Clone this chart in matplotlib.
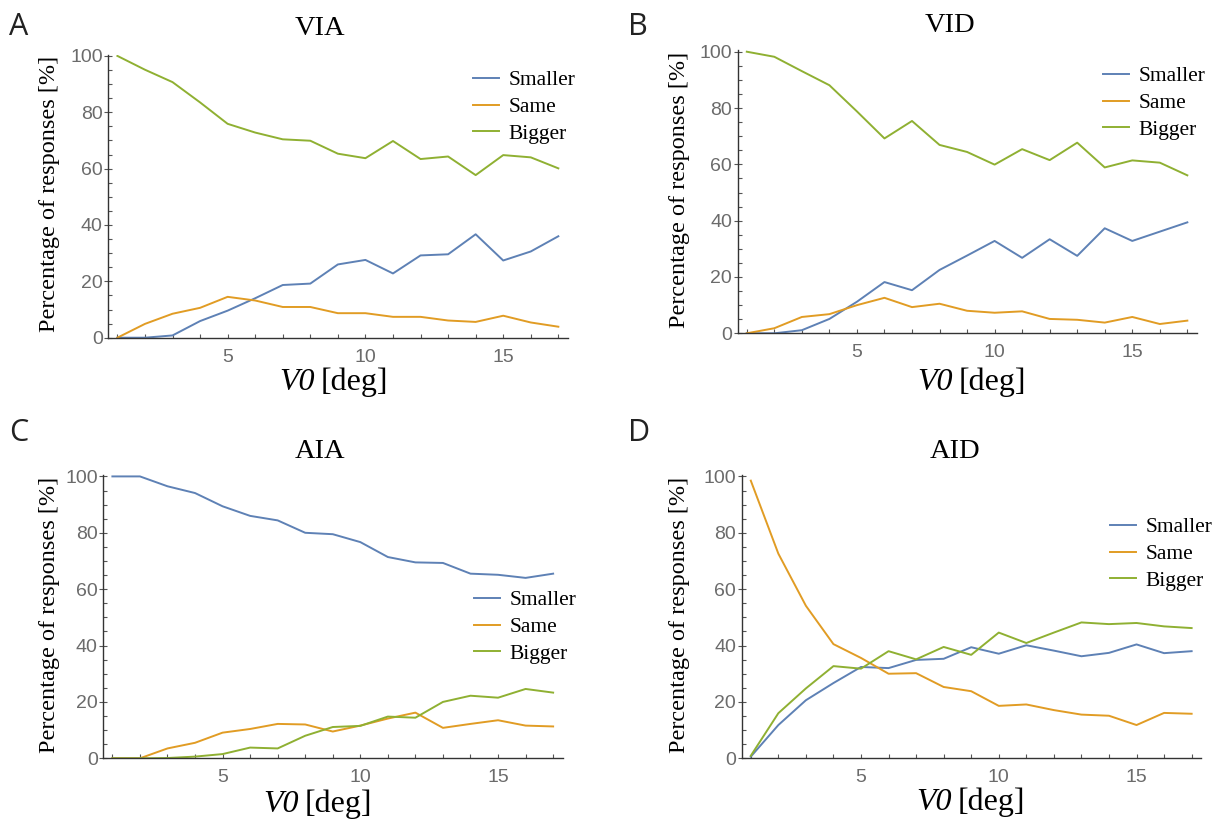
import matplotlib
matplotlib.use("Agg")
from matplotlib import pyplot as plt
from matplotlib.ticker import MultipleLocator

v0 = list(range(1, 18))

via_smaller = [0, 0, 0.8, 5.9, 9.6, 14, 18.7, 19.2, 26, 27.6, 22.8, 29.2, 29.6, 36.7, 27.4, 30.6, 36]
via_same = [0, 4.9, 8.5, 10.6, 14.5, 13.2, 10.9, 10.9, 8.7, 8.7, 7.4, 7.4, 6.1, 5.6, 7.8, 5.4, 3.9]
via_bigger = [100, 95.1, 90.7, 83.5, 75.9, 72.8, 70.4, 69.9, 65.3, 63.7, 69.8, 63.4, 64.3, 57.7, 64.8, 64, 60.1]

vid_smaller = [0, 0, 1.1, 5.1, 11.2, 18.2, 15.3, 22.5, 27.6, 32.8, 26.8, 33.4, 27.5, 37.3, 32.8, 36.1, 39.4]
vid_same = [0, 1.8, 5.8, 6.8, 10, 12.6, 9.3, 10.5, 8, 7.3, 7.8, 5.1, 4.8, 3.8, 5.8, 3.3, 4.5]
vid_bigger = [100, 98.2, 93.1, 88.1, 78.8, 69.2, 75.4, 66.9, 64.4, 59.9, 65.4, 61.5, 67.7, 58.9, 61.4, 60.6, 56.1]

aia_smaller = [100, 100, 96.5, 94.1, 89.4, 86, 84.4, 80, 79.5, 76.7, 71.4, 69.5, 69.3, 65.5, 65.1, 64, 65.5]
aia_same = [0, 0, 3.5, 5.5, 9.1, 10.4, 12.2, 12, 9.5, 11.6, 14.1, 16.2, 10.8, 12.2, 13.5, 11.6, 11.3]
aia_bigger = [0, 0, 0.1, 0.6, 1.5, 3.8, 3.5, 8, 11.1, 11.5, 14.8, 14.4, 20, 22.2, 21.5, 24.6, 23.3]

aid_smaller = [0.6, 11.8, 20.6, 26.7, 32.4, 32, 34.9, 35.3, 39.4, 37.1, 40.1, 38.2, 36.2, 37.4, 40.4, 37.3, 38]
aid_same = [98.5, 72.6, 54.1, 40.5, 35.6, 30, 30.2, 25.3, 23.8, 18.6, 19.1, 17.1, 15.5, 15.1, 11.8, 16.1, 15.8]
aid_bigger = [0.9, 16, 24.8, 32.7, 31.8, 38, 35.1, 39.5, 36.7, 44.6, 40.9, 44.6, 48.2, 47.6, 48, 46.8, 46.2]

labels = ["Smaller", "Same", "Bigger"]
colors = ["#5E81B5", "#E19C24", "#8FB032"]

SERIF = "Liberation Serif"
SANS = "Liberation Sans"

W, H = 1222, 824
fig = plt.figure(figsize=(W / 100, H / 100), dpi=100)
renderer = fig.canvas.get_renderer()


def fx(x):
    return x / W


def fy(y):
    return 1 - y / H


def v0_label(xc, yb):
    # italic "V0" followed by upright "[deg]", centred on xc
    a = fig.text(0, fy(yb), "V0", fontsize=23, family=SERIF, style="italic",
                 va="baseline")
    b = fig.text(0, fy(yb), "[deg]", fontsize=23, family=SERIF, va="baseline")
    wa = a.get_window_extent(renderer).width
    wb = b.get_window_extent(renderer).width
    gap = 6
    left = xc - (wa + gap + wb) / 2
    a.set_x(fx(left))
    b.set_x(fx(left + wa + gap))


# box (px), letter, title, ylabel x, xlabel centre, legend anchor
panels = [
    dict(box=(108.3, 54.5, 567.7, 337.7), series=(via_smaller, via_same, via_bigger),
         letter="A", letter_xy=(9, 35), title="VIA", title_xy=(320, 35),
         ylab_x=50, xlab_xy=(334, 390), leg_xy=(473, 107)),
    dict(box=(737.7, 50.3, 1196.7, 333.3), series=(vid_smaller, vid_same, vid_bigger),
         letter="B", letter_xy=(628, 35), title="VID", title_xy=(950, 32),
         ylab_x=680, xlab_xy=(972, 390), leg_xy=(1103, 103)),
    dict(box=(103.3, 475, 562.5, 758.3), series=(aia_smaller, aia_same, aia_bigger),
         letter="C", letter_xy=(9, 441), title="AIA", title_xy=(320, 458),
         ylab_x=50, xlab_xy=(318, 812), leg_xy=(474, 627)),
    dict(box=(741.7, 475, 1201, 758.3), series=(aid_smaller, aid_same, aid_bigger),
         letter="D", letter_xy=(628, 441), title="AID", title_xy=(955, 458),
         ylab_x=680, xlab_xy=(971, 810), leg_xy=(1110, 554)),
]

for p in panels:
    x0, y0, x1, y1 = p["box"]
    ax = fig.add_axes([fx(x0), fy(y1), fx(x1 - x0), (y1 - y0) / H])

    handles = []
    for vals, lab, col in zip(p["series"], labels, colors):
        (ln,) = ax.plot(v0, vals, color=col, lw=1.4, label=lab)
        handles.append(ln)

    ax.set_xlim(0.67, 17.34)
    ax.set_ylim(0, 100.5)
    for side in ("top", "right"):
        ax.spines[side].set_visible(False)
    for side in ("left", "bottom"):
        ax.spines[side].set_color("#333333")
        ax.spines[side].set_linewidth(1.0)

    ax.xaxis.set_major_locator(MultipleLocator(5))
    ax.xaxis.set_minor_locator(MultipleLocator(1))
    ax.yaxis.set_major_locator(MultipleLocator(20))
    ax.yaxis.set_minor_locator(MultipleLocator(5))
    ax.tick_params(axis="x", which="both", direction="in", length=3.2, width=0.8,
                   color="#555555", pad=8, labelsize=14, labelcolor="#6b6b6b")
    ax.tick_params(axis="y", which="major", direction="inout", length=6, width=0.8,
                   color="#555555", pad=1, labelsize=14, labelcolor="#6b6b6b")
    ax.tick_params(axis="y", which="minor", direction="in", length=3.2, width=0.8,
                   color="#555555")
    for t in ax.get_xticklabels() + ax.get_yticklabels():
        t.set_fontfamily(SANS)

    ax.legend(handles, labels, loc="center left",
              bbox_to_anchor=(fx(p["leg_xy"][0]), fy(p["leg_xy"][1])),
              bbox_transform=fig.transFigure, frameon=False,
              prop={"family": SERIF, "size": 15.5}, handlelength=1.2,
              handletextpad=0.45, labelspacing=0.32, borderpad=0, borderaxespad=0)

    lx, ly = p["letter_xy"]
    fig.text(fx(lx), fy(ly), p["letter"], fontsize=22, family="Open Sans",
             color="#222222", ha="left", va="baseline")
    tx, ty = p["title_xy"]
    fig.text(fx(tx), fy(ty), p["title"], fontsize=20.5, family=SERIF,
             ha="center", va="baseline")
    fig.text(fx(p["ylab_x"]), fy((y0 + y1) / 2 - 2), "Percentage of responses [%]",
             rotation=90, fontsize=17.5, family=SERIF, ha="center", va="center")
    v0_label(*p["xlab_xy"])

fig.savefig("out.png", dpi=100)
